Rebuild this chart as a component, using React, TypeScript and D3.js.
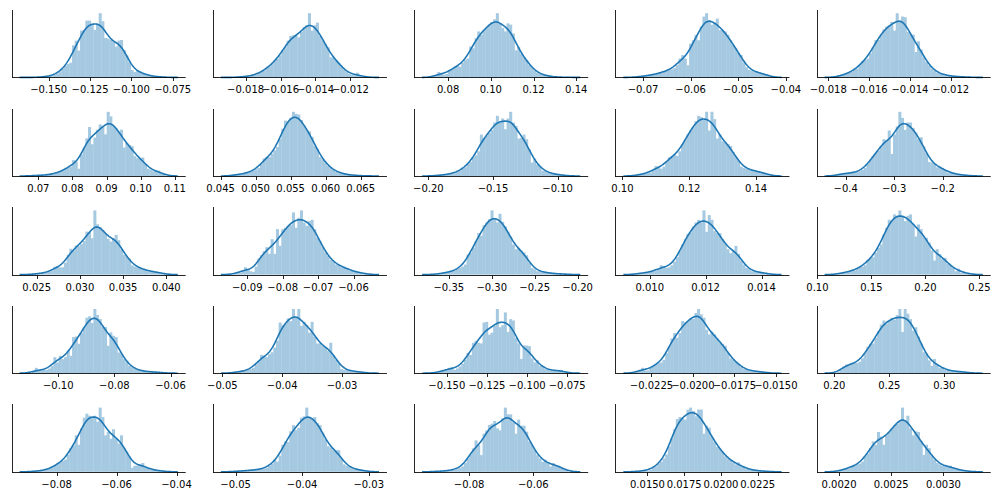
import React from "react";
import * as d3 from "d3";

// ---------- data: x-limits, tick labels, histogram bin heights (% of axis height) ----------
const xlim_r1c1 = [-0.1724, -0.0671];
const ticks_r1c1 = ["−0.150", "−0.125", "−0.100", "−0.075"];
const bins_r1c1 = [0,0,0,1,1,1,2,2,4,6, 9,13,17,20,22,48,55,40,70,71, 85,85,80,71,80,96,84,59,58,56, 54,46,55,56,41,33,23,11,8,10, 9,6,4,3,2,2,1,1,0,1];

const xlim_r1c2 = [-0.01987, -0.00991];
const ticks_r1c2 = ["−0.018", "−0.016", "−0.014", "−0.012"];
const bins_r1c2 = [0,0,1,1,1,2,2,3,4,6, 8,10,14,16,20,24,28,33,40,45, 55,62,63,62,60,68,75,78,96,70, 78,82,62,55,50,45,30,30,26,22, 16,12,8,5,4,3,7,2,1,1];

const xlim_r1c3 = [0.0641, 0.1456];
const ticks_r1c3 = ["0.08", "0.10", "0.12", "0.14"];
const bins_r1c3 = [2,8,6,4,5,10,12,16,18,16, 22,26,28,46,43,58,68,63,70,74, 78,82,86,95,80,73,68,80,78,65, 40,45,35,30,26,18,14,10,7,5, 4,3,2,1,1,1,0,0,0,1];

const xlim_r1c4 = [-0.0758, -0.03925];
const ticks_r1c4 = ["−0.07", "−0.06", "−0.05", "−0.04"];
const bins_r1c4 = [1,1,2,2,3,3,4,5,6,7, 8,10,12,12,14,18,28,33,28,18, 50,55,63,55,75,90,95,85,78,81, 87,70,70,68,63,55,48,43,36,33, 22,15,11,10,8,8,6,6,5,4];

const xlim_r1c5 = [-0.01857, -0.01004];
const ticks_r1c5 = ["−0.018", "−0.016", "−0.014", "−0.012"];
const bins_r1c5 = [2,3,4,5,7,8,12,13,18,24, 26,28,36,45,56,56,65,72,76,78, 83,70,96,85,91,90,68,65,64,38, 54,42,30,23,18,13,10,7,6,5, 3,3,2,2,1,1,1,1,0,1];

const xlim_r2c1 = [0.0622, 0.1132];
const ticks_r2c1 = ["0.07", "0.08", "0.09", "0.10", "0.11"];
const bins_r2c1 = [1,1,1,1,1,2,2,3,3,5, 7,8,10,12,14,24,22,11,32,43, 57,74,48,58,70,78,75,63,97,90, 75,72,67,70,43,50,47,45,30,27, 26,28,18,11,9,7,8,8,4,3];

const xlim_r2c2 = [0.0439, 0.06875];
const ticks_r2c2 = ["0.045", "0.050", "0.055", "0.060", "0.065"];
const bins_r2c2 = [3,2,2,3,4,5,6,8,10,12, 18,26,28,28,33,38,43,55,70,82, 81,86,95,92,91,83,75,68,66,58, 45,40,28,25,20,15,12,9,6,5, 4,3,2,2,1,1,1,0,0,1];

const xlim_r2c3 = [-0.211, -0.0763];
const ticks_r2c3 = ["−0.20", "−0.15", "−0.10"];
const bins_r2c3 = [1,1,1,2,2,3,4,4,6,8, 11,13,18,21,28,31,37,62,56,60, 64,69,80,90,80,86,70,86,96,80, 75,56,57,62,55,40,20,26,17,14, 8,7,5,4,3,3,2,1,1,1];

const xlim_r2c4 = [0.0979, 0.15];
const ticks_r2c4 = ["0.10", "0.12", "0.14"];
const bins_r2c4 = [2,2,3,3,5,5,8,15,14,11, 14,22,28,30,32,30,37,48,55,62, 68,73,82,90,88,84,96,68,96,85, 56,62,52,50,48,45,36,28,23,14, 12,11,10,9,7,7,6,6,4,3];

const xlim_r2c5 = [-0.4598, -0.101];
const ticks_r2c5 = ["−0.4", "−0.3", "−0.2"];
const bins_r2c5 = [3,3,4,4,4,5,5,6,7,9, 12,18,24,30,34,38,44,55,53,68, 33,62,74,96,87,69,80,80,72,65, 55,58,44,34,21,20,18,13,14,12, 9,5,5,4,3,2,2,1,1,1];

const xlim_r3c1 = [0.02211, 0.04223];
const ticks_r3c1 = ["0.025", "0.030", "0.035", "0.040"];
const bins_r3c1 = [1,1,2,2,2,3,4,6,12,13, 11,11,18,30,39,36,44,43,46,51, 65,64,55,97,76,72,68,62,54,50, 55,60,52,38,30,27,24,14,12,11, 11,8,7,5,5,5,4,3,2,2];

const xlim_r3c2 = [-0.09969, -0.05056];
const ticks_r3c2 = ["−0.09", "−0.08", "−0.07", "−0.06"];
const bins_r3c2 = [2,2,3,6,11,8,5,4,12,24, 29,35,41,31,53,31,68,43,68,70, 73,74,93,70,85,96,78,73,80,82, 68,55,50,41,33,28,22,20,15,14, 11,12,10,6,6,4,4,3,2,2];

const xlim_r3c3 = [-0.3903, -0.1877];
const ticks_r3c3 = ["−0.35", "−0.30", "−0.25", "−0.20"];
const bins_r3c3 = [1,1,2,2,3,4,5,6,8,10, 12,15,30,33,40,50,62,58,74,78, 83,96,84,78,91,79,72,64,57,45, 38,40,36,33,29,18,10,8,5,5, 4,3,3,2,2,1,1,1,1,1];

const xlim_r3c4 = [0.00877, 0.015];
const ticks_r3c4 = ["0.010", "0.012", "0.014"];
const bins_r3c4 = [2,2,2,3,3,4,5,6,8,14, 12,10,11,14,19,26,35,45,53,61, 63,72,78,82,78,96,64,89,82,65, 62,62,53,46,38,32,36,43,31,21, 15,10,8,5,5,4,3,3,2,2];

const xlim_r3c5 = [0.0993, 0.2604];
const ticks_r3c5 = ["0.10", "0.15", "0.20", "0.25"];
const bins_r3c5 = [2,2,3,3,5,6,6,8,12,12, 14,22,25,26,33,40,45,60,70,82, 80,90,88,96,88,80,88,90,75,57, 75,68,56,55,48,36,21,38,31,23, 25,16,14,10,5,9,3,3,2,2];

const xlim_r4c1 = [-0.11658, -0.05459];
const ticks_r4c1 = ["−0.10", "−0.08", "−0.06"];
const bins_r4c1 = [2,8,4,4,5,5,7,11,24,16, 26,21,24,34,26,54,55,44,60,69, 83,85,75,96,87,81,69,69,41,61, 56,54,31,29,21,16,11,9,6,5, 4,3,3,2,2,2,2,1,1,1];

const xlim_r4c2 = [-0.05157, -0.0225];
const ticks_r4c2 = ["−0.05", "−0.04", "−0.03"];
const bins_r4c2 = [2,2,2,3,3,5,6,8,13,18, 27,26,24,28,31,38,48,75,71,73, 81,77,95,83,95,70,76,71,60,76, 54,44,44,40,38,33,45,26,20,15, 6,5,5,4,3,3,2,2,1,1];

const xlim_r4c3 = [-0.17034, -0.06194];
const ticks_r4c3 = ["−0.150", "−0.125", "−0.100", "−0.075"];
const bins_r4c3 = [1,1,3,4,5,8,9,5,7,10, 14,20,30,27,45,48,45,44,75,76, 57,60,70,95,68,71,90,61,80,78, 52,44,21,41,41,40,22,16,19,11, 10,6,5,4,4,3,5,5,2,1];

const xlim_r4c4 = [-0.02467, -0.01418];
const ticks_r4c4 = ["−0.0225", "−0.0200", "−0.0175", "−0.0150"];
const bins_r4c4 = [2,5,8,4,4,8,10,14,15,16, 20,30,40,52,60,53,60,78,76,78, 82,81,90,96,88,83,65,58,62,58, 52,46,44,41,30,22,20,17,14,9, 6,6,4,3,3,3,2,2,1,1];

const xlim_r4c5 = [0.184, 0.3422];
const ticks_r4c5 = ["0.20", "0.25", "0.30"];
const bins_r4c5 = [2,5,10,13,13,14,15,15,17,22, 30,39,43,44,52,62,72,78,73,78, 82,79,86,95,61,95,88,80,63,68, 54,44,31,29,19,11,21,13,8,8, 5,5,3,3,3,2,3,2,1,1];

const xlim_r5c1 = [-0.095, -0.03693];
const ticks_r5c1 = ["−0.08", "−0.06", "−0.04"];
const bins_r5c1 = [1,1,1,2,2,3,4,6,10,11, 14,16,18,25,35,39,54,40,64,80, 86,83,81,83,74,95,81,54,59,49, 63,49,42,54,35,30,23,6,9,9, 11,13,6,5,3,3,2,2,1,1];

const xlim_r5c2 = [-0.0534, -0.02726];
const ticks_r5c2 = ["−0.05", "−0.04", "−0.03"];
const bins_r5c2 = [1,1,1,1,2,2,2,3,3,3, 4,5,6,9,12,18,15,24,40,45, 44,60,69,62,65,80,82,95,80,78, 81,72,69,58,48,38,36,32,32,32, 20,11,9,7,5,4,3,3,2,2];

const xlim_r5c3 = [-0.0971, -0.0429];
const ticks_r5c3 = ["−0.08", "−0.06"];
const bins_r5c3 = [1,1,1,1,1,2,3,3,4,6, 8,13,20,26,35,47,40,25,57,62, 70,72,76,65,62,80,96,86,86,74, 57,78,69,69,60,45,40,33,25,20, 15,18,13,8,13,10,9,6,4,3];

const xlim_r5c4 = [0.01282, 0.02466];
const ticks_r5c4 = ["0.0150", "0.0175", "0.0200", "0.0225"];
const bins_r5c4 = [1,1,1,2,2,3,6,8,12,15, 20,26,38,50,64,79,82,80,78,93, 96,91,83,93,93,57,69,66,52,45, 37,35,30,23,20,18,14,11,14,8, 7,4,4,3,2,2,1,1,1,1];

const xlim_r5c5 = [0.001786, 0.003453];
const ticks_r5c5 = ["0.0020", "0.0025", "0.0030"];
const bins_r5c5 = [1,2,4,5,5,8,9,11,12,15, 23,27,35,45,40,59,52,40,54,59, 64,69,71,75,95,75,83,64,54,60, 59,46,25,40,35,23,18,13,11,9, 8,8,9,6,4,3,2,2,1,1];

const panels = [
  { xlim: xlim_r1c1, ticks: ticks_r1c1, bins: bins_r1c1 },
  { xlim: xlim_r1c2, ticks: ticks_r1c2, bins: bins_r1c2 },
  { xlim: xlim_r1c3, ticks: ticks_r1c3, bins: bins_r1c3 },
  { xlim: xlim_r1c4, ticks: ticks_r1c4, bins: bins_r1c4 },
  { xlim: xlim_r1c5, ticks: ticks_r1c5, bins: bins_r1c5 },
  { xlim: xlim_r2c1, ticks: ticks_r2c1, bins: bins_r2c1 },
  { xlim: xlim_r2c2, ticks: ticks_r2c2, bins: bins_r2c2 },
  { xlim: xlim_r2c3, ticks: ticks_r2c3, bins: bins_r2c3 },
  { xlim: xlim_r2c4, ticks: ticks_r2c4, bins: bins_r2c4 },
  { xlim: xlim_r2c5, ticks: ticks_r2c5, bins: bins_r2c5 },
  { xlim: xlim_r3c1, ticks: ticks_r3c1, bins: bins_r3c1 },
  { xlim: xlim_r3c2, ticks: ticks_r3c2, bins: bins_r3c2 },
  { xlim: xlim_r3c3, ticks: ticks_r3c3, bins: bins_r3c3 },
  { xlim: xlim_r3c4, ticks: ticks_r3c4, bins: bins_r3c4 },
  { xlim: xlim_r3c5, ticks: ticks_r3c5, bins: bins_r3c5 },
  { xlim: xlim_r4c1, ticks: ticks_r4c1, bins: bins_r4c1 },
  { xlim: xlim_r4c2, ticks: ticks_r4c2, bins: bins_r4c2 },
  { xlim: xlim_r4c3, ticks: ticks_r4c3, bins: bins_r4c3 },
  { xlim: xlim_r4c4, ticks: ticks_r4c4, bins: bins_r4c4 },
  { xlim: xlim_r4c5, ticks: ticks_r4c5, bins: bins_r4c5 },
  { xlim: xlim_r5c1, ticks: ticks_r5c1, bins: bins_r5c1 },
  { xlim: xlim_r5c2, ticks: ticks_r5c2, bins: bins_r5c2 },
  { xlim: xlim_r5c3, ticks: ticks_r5c3, bins: bins_r5c3 },
  { xlim: xlim_r5c4, ticks: ticks_r5c4, bins: bins_r5c4 },
  { xlim: xlim_r5c5, ticks: ticks_r5c5, bins: bins_r5c5 },
];

// ---------- layout ----------
const W = 1000;
const H = 496;
const COL_LEFT0 = 11.7;
const COL_STEP = 201.25;
const AX_W = 174;
const ROW_TOP0 = 10;
const ROW_STEP = 98.6;
const AX_H = 67.4;
const BAR_COLOR = "#a5c9e1";
const LINE_COLOR = "#1f77b4";
const FONT = "'DejaVu Sans', sans-serif";
const SMOOTH = 1.35; // KDE smoothing relative to the cut bandwidth

function Panel({ spec, r, c }: { spec: any; r: number; c: number }) {
  const left = COL_LEFT0 + c * COL_STEP;
  const top = ROW_TOP0 + r * ROW_STEP;
  const bottom = top + AX_H;
  const [lo, hi] = spec.xlim;
  const x = d3.scaleLinear().domain([lo, hi]).range([left, left + AX_W]);

  const span = hi - lo;
  const lineLo = lo + span / 22;
  const lineHi = hi - span / 22;
  const L = lineHi - lineLo;
  const bw = 0.02627 * L;
  const binLo = lineLo + 3 * bw;
  const binHi = lineHi - 3 * bw;
  const bins: number[] = spec.bins;
  const n = bins.length;
  const w = (binHi - binLo) / n;
  const kbw = bw * SMOOTH;

  const xs = d3.range(241).map((i) => lineLo + (L * i) / 240);
  const dens = xs.map((xv) =>
    d3.sum(bins, (h, i) => {
      const z = (xv - (binLo + (i + 0.5) * w)) / kbw;
      return (h * w * Math.exp(-0.5 * z * z)) / (kbw * Math.sqrt(2 * Math.PI));
    })
  );
  const ymax = 1.05 * Math.max(d3.max(bins) as number, d3.max(dens) as number);
  const y = d3.scaleLinear().domain([0, ymax]).range([bottom, top]);

  const line = d3
    .line<[number, number]>()
    .x((d) => x(d[0]))
    .y((d) => y(d[1]));
  const pts: [number, number][] = xs.map((xv, i) => [xv, dens[i]]);

  const sx = Math.round(left) + 0.5;
  const sy = Math.round(bottom) + 0.5;

  return (
    <g>
      {bins.map((h, i) => {
        const x0 = x(binLo + i * w);
        const x1 = x(binLo + (i + 1) * w);
        return (
          <rect
            key={i}
            x={x0}
            y={y(h)}
            width={x1 - x0 + 0.35}
            height={Math.max(0, y(0) - y(h))}
            fill={BAR_COLOR}
          />
        );
      })}
      <path d={line(pts) || ""} fill="none" stroke={LINE_COLOR} strokeWidth={1.6} strokeLinejoin="round" />
      <line x1={sx} x2={sx} y1={Math.round(top)} y2={sy} stroke="#000" strokeOpacity={0.85} strokeWidth={1} />
      <line x1={sx - 0.5} x2={left + AX_W} y1={sy} y2={sy} stroke="#000" strokeOpacity={0.85} strokeWidth={1} />
      {spec.ticks.map((t: string) => {
        const v = +t.replace("−", "-");
        const tx = Math.round(x(v)) + 0.5;
        return (
          <g key={t}>
            <line x1={tx} x2={tx} y1={sy} y2={sy + 3.5} stroke="#000" strokeOpacity={0.85} strokeWidth={1} />
            <text
              x={x(v)}
              y={bottom + 16}
              textAnchor="middle"
              fontFamily={FONT}
              fontSize={10}
              fill="#000"
            >
              {t}
            </text>
          </g>
        );
      })}
    </g>
  );
}

export default function App() {
  return (
    <svg
      width={W}
      height={H}
      viewBox={`0 0 ${W} ${H}`}
      style={{ position: "absolute", left: 0, top: 0, background: "#fff" }}
    >
      <rect x={0} y={0} width={W} height={H} fill="#fff" />
      {panels.map((p, k) => (
        <Panel key={k} spec={p} r={Math.floor(k / 5)} c={k % 5} />
      ))}
    </svg>
  );
}
